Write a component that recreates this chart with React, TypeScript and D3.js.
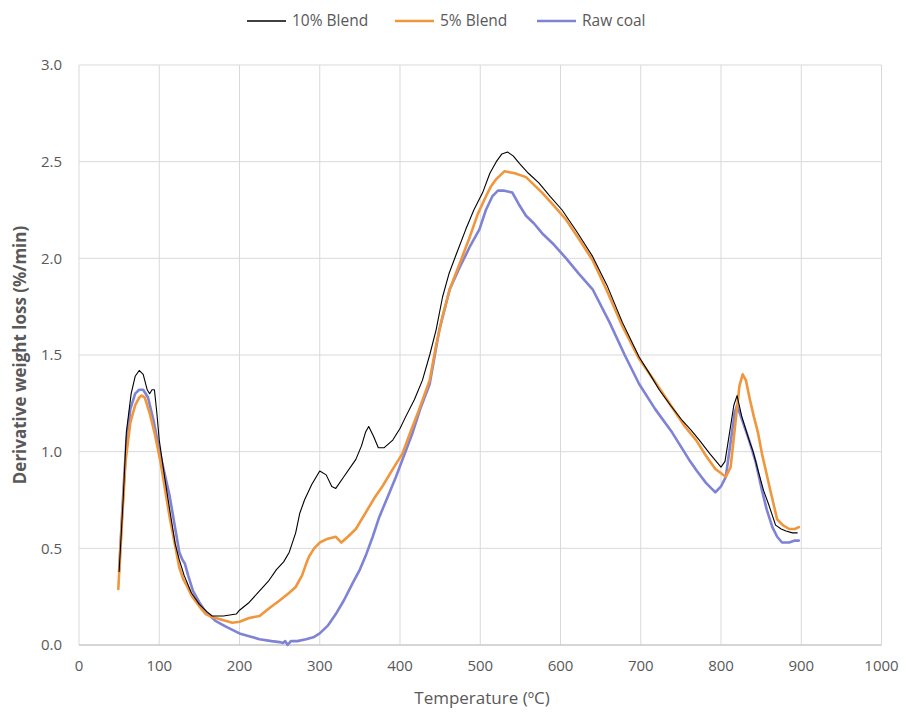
import React from "react";
import * as d3 from "d3";

const width = 906;
const height = 712;
const margin = { top: 65, right: 24, bottom: 67, left: 79 };

// [temperature ºC, derivative weight loss %/min]
const blend10: [number, number][] = [
  [50, 0.38], [55, 0.75], [59, 1.1], [65, 1.3], [70, 1.39], [75, 1.42], [80, 1.4],
  [85, 1.32], [88, 1.3], [91, 1.32], [94, 1.32], [97, 1.2], [100, 1.06], [107, 0.86],
  [113, 0.7], [120, 0.52], [125, 0.44], [131, 0.36], [140, 0.27], [150, 0.21],
  [160, 0.17], [166, 0.15], [180, 0.15], [196, 0.16], [200, 0.18], [212, 0.22],
  [225, 0.28], [236, 0.33], [246, 0.39], [255, 0.43], [262, 0.48], [270, 0.58],
  [275, 0.68], [281, 0.75], [290, 0.83], [300, 0.9], [308, 0.88], [315, 0.82],
  [320, 0.81], [330, 0.87], [345, 0.96], [352, 1.03], [357, 1.1], [361, 1.13],
  [367, 1.08], [373, 1.02], [380, 1.02], [391, 1.06], [400, 1.12], [407, 1.18],
  [418, 1.27], [428, 1.37], [437, 1.5], [445, 1.63], [453, 1.8], [461, 1.92],
  [470, 2.02], [482, 2.15], [492, 2.25], [503, 2.34], [512, 2.44], [520, 2.5],
  [527, 2.54], [534, 2.55], [541, 2.53], [549, 2.49], [560, 2.44], [573, 2.39],
  [587, 2.32], [602, 2.25], [620, 2.14], [640, 2.01], [658, 1.86], [677, 1.67],
  [698, 1.49], [710, 1.41], [723, 1.32], [737, 1.24], [752, 1.16], [763, 1.11],
  [773, 1.06], [786, 0.99], [800, 0.92], [805, 0.95], [810, 1.08], [816, 1.24],
  [820, 1.29], [826, 1.18], [835, 1.06], [840, 1.0], [847, 0.89], [853, 0.8],
  [860, 0.72], [868, 0.62], [875, 0.6], [881, 0.59], [889, 0.58], [895, 0.58]
];

const blend5: [number, number][] = [
  [49, 0.29], [53, 0.6], [58, 0.95], [64, 1.15], [70, 1.24], [75, 1.28], [78, 1.29],
  [82, 1.28], [88, 1.2], [94, 1.1], [101, 0.96], [107, 0.81], [113, 0.66],
  [120, 0.51], [125, 0.4], [130, 0.34], [134, 0.31], [141, 0.25], [150, 0.2],
  [158, 0.16], [166, 0.145], [178, 0.13], [191, 0.115], [200, 0.12], [212, 0.14],
  [225, 0.15], [237, 0.19], [250, 0.23], [262, 0.27], [270, 0.3], [278, 0.36],
  [283, 0.42], [287, 0.46], [293, 0.5], [300, 0.53], [310, 0.55], [320, 0.56],
  [327, 0.53], [335, 0.56], [345, 0.6], [358, 0.69], [368, 0.76], [378, 0.82],
  [391, 0.91], [403, 0.99], [412, 1.09], [424, 1.22], [437, 1.37], [445, 1.55],
  [453, 1.7], [462, 1.84], [475, 1.98], [486, 2.1], [497, 2.23], [507, 2.32],
  [513, 2.37], [520, 2.41], [530, 2.45], [543, 2.44], [557, 2.42], [567, 2.38],
  [577, 2.34], [590, 2.28], [607, 2.2], [623, 2.1], [640, 1.99], [657, 1.84],
  [677, 1.65], [698, 1.48], [718, 1.36], [739, 1.23], [755, 1.13], [769, 1.06],
  [781, 0.98], [793, 0.91], [806, 0.87], [812, 0.92], [818, 1.15], [823, 1.34],
  [827, 1.4], [831, 1.37], [836, 1.27], [841, 1.18], [846, 1.1], [851, 0.99],
  [856, 0.9], [862, 0.79], [870, 0.65], [877, 0.62], [885, 0.6], [892, 0.6], [897, 0.61]
];

const rawCoal: [number, number][] = [
  [50, 0.38], [54, 0.7], [59, 1.05], [64, 1.22], [70, 1.3], [75, 1.32], [80, 1.32],
  [86, 1.28], [93, 1.16], [100, 1.01], [107, 0.88], [113, 0.77], [120, 0.6],
  [125, 0.48], [129, 0.44], [132, 0.42], [136, 0.36], [142, 0.28], [150, 0.22],
  [158, 0.17], [170, 0.125], [183, 0.095], [200, 0.06], [212, 0.045], [225, 0.03],
  [240, 0.02], [250, 0.015], [254, 0.01], [257, 0.02], [260, 0.0], [264, 0.02],
  [272, 0.02], [283, 0.03], [292, 0.04], [300, 0.06], [310, 0.1], [320, 0.16],
  [330, 0.23], [341, 0.32], [350, 0.39], [358, 0.47], [366, 0.56], [374, 0.66],
  [385, 0.77], [395, 0.87], [405, 0.98], [415, 1.09], [426, 1.23], [437, 1.35],
  [449, 1.63], [462, 1.84], [474, 1.95], [487, 2.06], [499, 2.15], [507, 2.25],
  [515, 2.32], [522, 2.35], [530, 2.35], [540, 2.34], [548, 2.28], [557, 2.22],
  [567, 2.18], [577, 2.13], [592, 2.07], [607, 2.0], [623, 1.92], [640, 1.84],
  [661, 1.67], [680, 1.5], [698, 1.35], [718, 1.22], [739, 1.1], [760, 0.96],
  [770, 0.9], [781, 0.84], [788, 0.81], [793, 0.79], [800, 0.82], [806, 0.87],
  [812, 1.05], [817, 1.2], [820, 1.24], [825, 1.18], [835, 1.06], [843, 0.95],
  [851, 0.8], [857, 0.7], [864, 0.61], [870, 0.56], [876, 0.53], [885, 0.53],
  [892, 0.54], [897, 0.54]
];

const xTicks = [0, 100, 200, 300, 400, 500, 600, 700, 800, 900, 1000];
const yTicks = [0, 0.5, 1.0, 1.5, 2.0, 2.5, 3.0];

const series = [
  { name: "10% Blend", data: blend10, color: "#000000", width: 1.1 },
  { name: "5% Blend", data: blend5, color: "#F0963C", width: 2.6 },
  { name: "Raw coal", data: rawCoal, color: "#7F83D6", width: 2.6 }
];

const font = "Open Sans, sans-serif";

export default function App() {
  const x = d3.scaleLinear().domain([0, 1000]).range([margin.left, width - margin.right - 0.5]);
  const y = d3.scaleLinear().domain([0, 3]).range([height - margin.bottom, margin.top]);
  const line = d3.line<[number, number]>()
    .x(d => x(d[0]))
    .y(d => y(d[1]));

  const legendX = [247, 395, 537];

  return (
    <svg width={width} height={height} style={{ position: "absolute", left: 0, top: 0, background: "#fff" }}>
      {/* grid */}
      {yTicks.map(t => (
        <line key={"gy" + t} x1={x(0)} x2={x(1000)} y1={y(t)} y2={y(t)} stroke="#d9d9d9" strokeWidth={1} />
      ))}
      {xTicks.map(t => (
        <line key={"gx" + t} x1={x(t)} x2={x(t)} y1={y(0)} y2={y(3)} stroke="#d9d9d9" strokeWidth={1} />
      ))}
      <line x1={x(0)} x2={x(1000)} y1={y(0)} y2={y(0)} stroke="#bfbfbf" strokeWidth={1} />

      {/* tick labels */}
      {yTicks.map(t => (
        <text key={"ty" + t} x={x(0) - 17} y={y(t)} dy="0.35em" textAnchor="end"
          fontFamily={font} fontSize={15} fill="#595959">{d3.format(".1f")(t)}</text>
      ))}
      {xTicks.map(t => (
        <text key={"tx" + t} x={x(t)} y={y(0) + 21} dy="0.35em" textAnchor="middle"
          fontFamily={font} fontSize={15} fill="#595959">{t}</text>
      ))}

      {/* axis titles */}
      <text x={482} y={704} textAnchor="middle" fontFamily={font}
        fontSize={17} fill="#595959">Temperature (ºC)</text>
      <text transform={`translate(26,${(y(0) + y(3)) / 2}) rotate(-90)`} textAnchor="middle"
        fontFamily={font} fontSize={17} fontWeight="bold" fill="#595959">Derivative weight loss (%/min)</text>

      {/* series */}
      {series.slice().reverse().map(s => (
        <path key={s.name} d={line(s.data) ?? ""} fill="none" stroke={s.color}
          strokeWidth={s.width} strokeLinejoin="round" strokeLinecap="round" />
      ))}

      {/* legend */}
      {series.map((s, i) => (
        <g key={"lg" + s.name}>
          <line x1={legendX[i]} x2={legendX[i] + 39} y1={21} y2={21} stroke={s.color}
            strokeWidth={s.width === 1.1 ? 1.5 : 2.6} />
          <text x={legendX[i] + 45} y={21} dy="0.35em" fontFamily={font} fontSize={15.5}
            fill="#595959">{s.name}</text>
        </g>
      ))}
    </svg>
  );
}
